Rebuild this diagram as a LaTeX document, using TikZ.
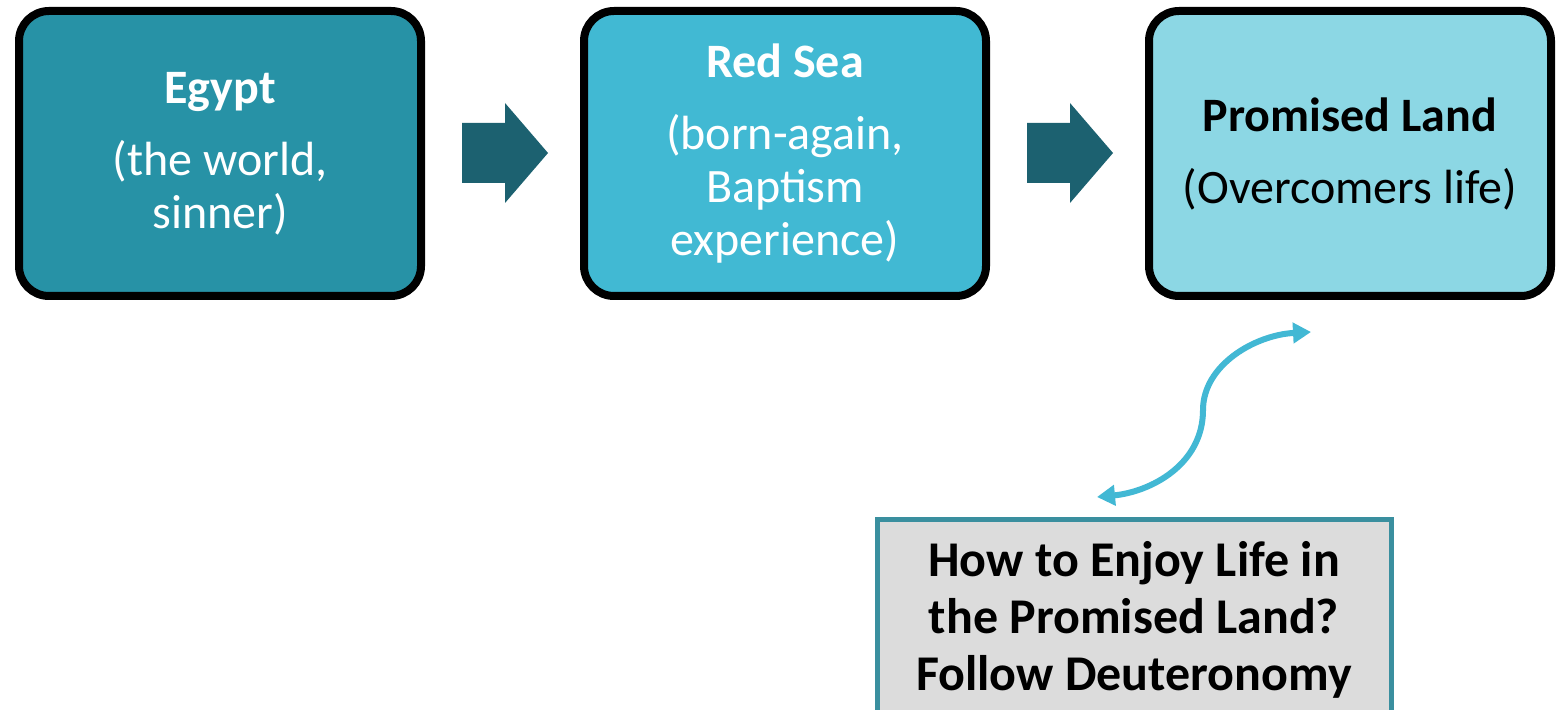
\documentclass[tikz,border=0pt]{standalone}
\usepackage{fontspec}
\setmainfont{Carlito}
\usetikzlibrary{arrows.meta}
\definecolor{egyptcol}{RGB}{39,146,166}
\definecolor{seacol}{RGB}{65,185,211}
\definecolor{landcol}{RGB}{140,215,228}
\definecolor{stepcol}{RGB}{28,97,112}
\definecolor{curvecol}{RGB}{66,184,212}
\definecolor{qborder}{RGB}{58,143,159}
\definecolor{qfill}{RGB}{220,220,220}
\begin{document}
\begin{tikzpicture}[x=0.5pt,y=-0.5pt,
    stage/.style={draw=black,line width=4pt,rounded corners=15pt,minimum width=201pt,minimum height=142.5pt,align=center,inner sep=0pt,font=\fontsize{24}{26.5}\selectfont},
    blockarrow/.pic={\fill [stepcol] (-43,-30) -- (0,-30) -- (0,-50) -- (43,0) -- (0,50) -- (0,30) -- (-43,30) -- cycle;},
    question/.style={draw=qborder,fill=qfill,line width=2.5pt,minimum width=257pt,minimum height=101pt,align=center,inner sep=0pt,font=\bfseries\fontsize{25}{28.5}\selectfont}]
  \clip (0,0) rectangle (1561,710);
  \fill [white] (0,0) rectangle (1561,710);
  % the three stages
  \node [stage,fill=egyptcol,text=white] (egypt) at (220,153.5) {\textbf{Egypt}\\[9.5pt](the world,\\sinner)};
  \node [stage,fill=seacol,text=white] (redsea) at (785,153.5) {\textbf{Red Sea}\\[9.5pt](born-again,\\Baptism\\experience)};
  \node [stage,fill=landcol,text=black] (land) at (1350,153.5) {\textbf{Promised Land}\\[9.5pt](Overcomers life)};
  \coordinate (go1) at (505,153);
  \coordinate (go2) at (1070,153);
  \pic at (go1) {blockarrow};
  \pic at (go2) {blockarrow};
  % the question
  \node [question] (how) at (1134,620) {How to Enjoy Life in\\the Promised Land?\\Follow Deuteronomy};
  \coordinate (lowend) at (1097,497);
  \coordinate (highend) at (1311,332);
  \draw [curvecol,line width=3pt,{Triangle[length=9pt,width=10pt]}-{Triangle[length=9pt,width=10pt]}] (lowend) .. controls (1150,492) and (1203,465) .. (1203,410) .. controls (1203,365) and (1255,335) .. (highend);
\end{tikzpicture}
\end{document}
